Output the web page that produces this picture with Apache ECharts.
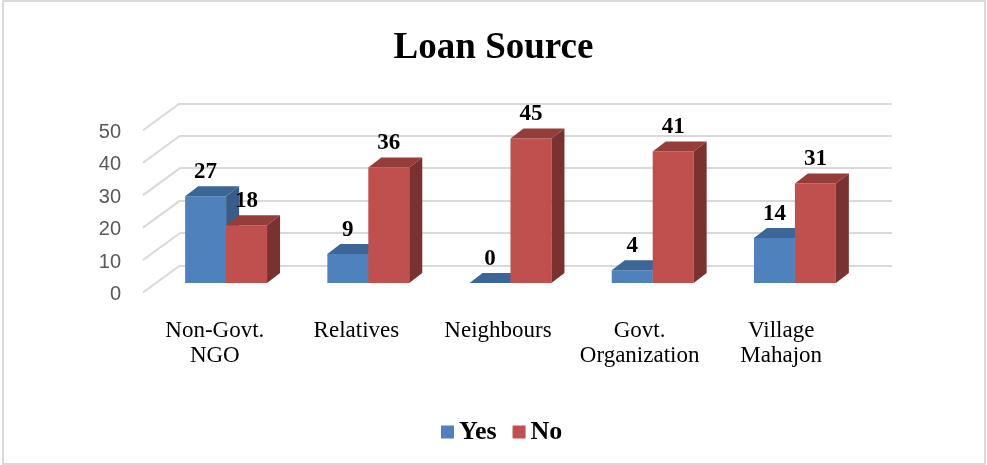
<!DOCTYPE html>
<html>
<head>
<meta charset="utf-8">
<script src="https://cdn.jsdelivr.net/npm/echarts@6/dist/echarts.min.js"></script>
<style>html,body{margin:0;padding:0;background:#fff}#c{width:987px;height:465px}</style>
</head>
<body>
<div id="c"></div>
<script>
const categories = ['Non-Govt.\nNGO', 'Relatives', 'Neighbours', 'Govt.\nOrganization', 'Village\nMahajon'];
const yesValues = [27, 9, 0, 4, 14];
const noValues = [18, 36, 45, 41, 31];
const yTicks = [0, 10, 20, 30, 40, 50];

const DX = 13, DY = -10;
function barRenderer(side, front, topC, sideC) {
  return function (params, api) {
    const idx = api.value(0), v = api.value(1);
    const top = api.coord([idx, v]);
    const base = api.coord([idx, 0]);
    const band = api.size([1, 0])[0];
    const w = band * 0.288;
    const left = side === 'left' ? top[0] - w : top[0];
    const right = left + w;
    const t = top[1], b = base[1];
    return {
      type: 'group',
      children: [
        { type: 'rect', shape: { x: left, y: t, width: w, height: b - t }, style: { fill: front } },
        { type: 'polygon', shape: { points: [[left, t], [left + DX, t + DY], [right + DX, t + DY], [right, t]] }, style: { fill: topC } },
        { type: 'polygon', shape: { points: [[right, t], [right + DX, t + DY], [right + DX, b + DY], [right, b]] }, style: { fill: sideC } },
        { type: 'text', z2: 100, style: { text: String(v), x: (left + right) / 2, y: t - 24, align: 'center', verticalAlign: 'middle', fontFamily: 'Liberation Serif', fontWeight: 'bold', fontSize: 23, fill: '#000' } }
      ]
    };
  };
}

const chart = echarts.init(document.getElementById('c'));
chart.setOption({
  backgroundColor: '#fff',
  animation: false,
  color: ['#4F81BD', '#C0504D'],
  title: {
    text: 'Loan Source', left: 'center', top: 25,
    textStyle: { fontFamily: 'Liberation Serif', fontSize: 37, fontWeight: 'bold', color: '#000' }
  },
  legend: {
    data: ['Yes', 'No'], left: 436, top: 414, icon: 'rect', itemWidth: 13, itemHeight: 13, itemGap: 16,
    textStyle: { fontFamily: 'Liberation Serif', fontSize: 26, fontWeight: 'bold', color: '#000' }
  },
  graphic: [{ type: 'rect', shape: { x: 3, y: 1, width: 982, height: 463 }, style: { fill: 'none', stroke: '#d9d9d9', lineWidth: 2 }, silent: true }],
  grid: [
    { left: 155, width: 711, top: 122.5, height: 160.5 },
    { left: 180, width: 712, top: 103.3, height: 162.2 },
    { left: 144, width: 708, top: 132.5, height: 162 }
  ],
  xAxis: [
    { type: 'category', gridIndex: 0, data: categories, show: false },
    { type: 'value', gridIndex: 1, min: 0, max: 1, show: false },
    { type: 'category', gridIndex: 2, data: categories, axisLine: { show: false }, axisTick: { show: false },
      axisLabel: { interval: 0, margin: 24, fontFamily: 'Liberation Serif', fontSize: 23, lineHeight: 25, color: '#000' } }
  ],
  yAxis: [
    { type: 'value', gridIndex: 0, min: 0, max: 50, show: false },
    { type: 'value', gridIndex: 1, min: 0, max: 50, interval: 10, axisLabel: { show: false }, axisLine: { show: false }, axisTick: { show: false },
      splitLine: { show: true, lineStyle: { color: '#d9d9d9', width: 2 } } },
    { type: 'value', gridIndex: 2, min: 0, max: 50, interval: 10, axisLine: { show: false }, axisTick: { show: false }, splitLine: { show: false },
      axisLabel: { margin: 23, fontFamily: 'Liberation Sans', fontSize: 20, color: '#595959' } }
  ],
  series: [
    {
      type: 'custom', name: 'wall', xAxisIndex: 1, yAxisIndex: 1, silent: true, z: 1,
      data: yTicks.map(v => [0, v]),
      renderItem: function (params, api) {
        const p = api.coord([0, api.value(1)]);
        return { type: 'line', shape: { x1: p[0], y1: p[1], x2: p[0] - 37, y2: p[1] + 27 }, style: { stroke: '#d9d9d9', lineWidth: 2 } };
      }
    },
    {
      type: 'custom', name: 'Yes', xAxisIndex: 0, yAxisIndex: 0, z: 3, itemStyle: { color: '#4F81BD' },
      data: yesValues.map((v, i) => [i, v]),
      renderItem: barRenderer('left', '#4F81BD', '#3D6698', '#385D8A')
    },
    {
      type: 'custom', name: 'No', xAxisIndex: 0, yAxisIndex: 0, z: 3, itemStyle: { color: '#C0504D' },
      data: noValues.map((v, i) => [i, v]),
      renderItem: barRenderer('right', '#C0504D', '#953D3B', '#7A3231')
    }
  ]
});
</script>
</body>
</html>
